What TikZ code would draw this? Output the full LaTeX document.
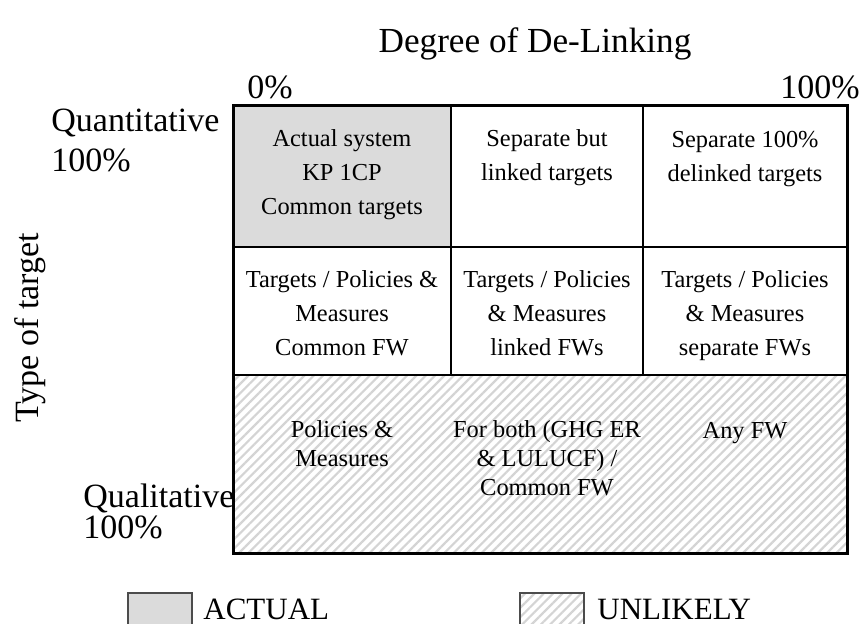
\documentclass[tikz,border=0pt]{standalone}
\usepackage{fontspec}
\setmainfont{Liberation Serif}
\usetikzlibrary{patterns.meta}
\tikzstyle{axistext} = [draw=none, fill=none, inner sep=0pt, font=\fontsize{17}{20}\selectfont]
\tikzstyle{legendtext} = [draw=none, fill=none, inner sep=0pt, anchor=base west, font=\fontsize{15.5}{18}\selectfont]
\tikzstyle{cell} = [draw=none, fill=none, inner sep=0pt, anchor=north, align=center, font=\fontsize{12.2}{17}\selectfont]
\tikzstyle{lowcell} = [cell, font=\fontsize{12.2}{14.5}\selectfont]
\tikzstyle{actual} = [fill=black!14]
\tikzstyle{unlikely} = [pattern={Lines[angle=45, distance=3.3pt, line width=1.1pt]}, pattern color=black!17]
\tikzstyle{inner} = [draw, line width=0.75pt]
\tikzstyle{outer} = [draw, line width=1.5pt]

\begin{document}
\begin{tikzpicture}[x=0.5pt, y=-0.5pt]
    \useasboundingbox (0,0) rectangle (861,624);
	% axis titles
    \node [axistext, anchor=base, font=\fontsize{17.6}{20}\selectfont] (N0) at (535,53) {Degree of De-Linking};
    \node [axistext, anchor=base west] (N1) at (247,99) {0\%};
    \node [axistext, anchor=base east] (N2) at (860,99) {100\%};
    \node [axistext, rotate=90] (N3) at (30,328) {Type of target};
    \node [axistext, anchor=base west] (N4) at (51,132) {Quantitative};
    \node [axistext, anchor=base west] (N5) at (51,172) {100\%};
    \node [axistext, anchor=base west] (N6) at (83,507) {Qualitative};
    \node [axistext, anchor=base west] (N7) at (83,538) {100\%};

	% shaded cells
    \path [actual] (233,106) rectangle (451,247);
    \path [unlikely] (233,375) rectangle (847,553);

	% grid
    \path [inner] (451,106) -- (451,375);
    \path [inner] (643,106) -- (643,375);
    \path [inner] (233,247) -- (847,247);
    \path [inner] (233,375) -- (847,375);
    \path [outer] (233,106) rectangle (847,553);

	% place cell texts
    \node [cell] (C11) at (342,129) {Actual system\\KP 1CP\\Common targets};
    \node [cell] (C12) at (547,129) {Separate but\\linked targets};
    \node [cell] (C13) at (745,131) {Separate 100\%\\delinked targets};
    \node [cell] (C21) at (342,270) {Targets / Policies \&\\Measures\\Common FW};
    \node [cell] (C22) at (547,270) {Targets / Policies\\\& Measures\\linked FWs};
    \node [cell] (C23) at (745,270) {Targets / Policies\\\& Measures\\separate FWs};
    \node [lowcell] (C31) at (342,420) {Policies \&\\Measures};
    \node [lowcell] (C32) at (547,420) {For both (GHG ER\\\& LULUCF) /\\Common FW};
    \node [lowcell] (C33) at (745,422) {Any FW};

	% legend
    \path [actual, draw=black!70, line width=0.6pt] (128,593) rectangle (192,626);
    \node [legendtext] (L1) at (203,619) {ACTUAL};
    \path [unlikely, draw=black!70, line width=0.6pt] (520,593) rectangle (584,626);
    \node [legendtext] (L2) at (597,619) {UNLIKELY};
\end{tikzpicture}
\end{document}
